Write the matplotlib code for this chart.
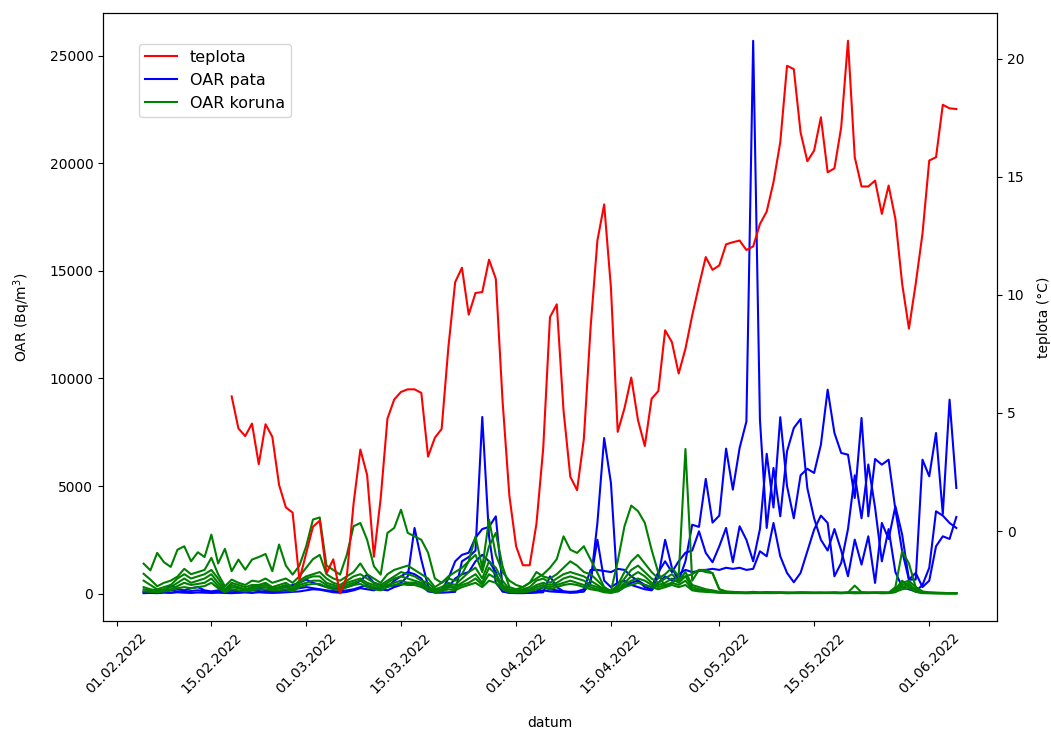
import numpy as np
import pandas as pd
import matplotlib
matplotlib.use("Agg")
import matplotlib.pyplot as plt
import matplotlib.dates as mdates
from matplotlib.lines import Line2D

dates = pd.date_range("2022-02-05", "2022-06-05", freq="D")
nan = np.nan

teplota = [nan] * 13 + [
    5.7, 4.34, 4.02, 4.55, 2.83, 4.52, 3.99, 1.95, 1.0, 0.78,
    -2.07, -0.94, 0.18, 0.44, -1.79, -1.2, -2.64, -1.93, 1.17, 3.45,
    2.37, -1.09, 1.38, 4.76, 5.57, 5.89, 6.0, 6.0, 5.85, 3.15,
    3.95, 4.32, 7.79, 10.54, 11.15, 9.16, 10.08, 10.12, 11.49, 10.68,
    5.5, 1.5, -0.65, -1.45, -1.45, 0.3, 3.5, 9.06, 9.6, 5.1,
    2.3, 1.73, 3.9, 8.64, 12.3, 13.83, 10.3, 4.2, 5.2, 6.5,
    4.69, 3.6, 5.6, 5.93, 8.5, 8.0, 6.67, 7.72, 9.13, 10.4,
    11.6, 11.06, 11.25, 12.14, 12.23, 12.3, 11.9, 12.05, 13.0, 13.53,
    14.77, 16.46, 19.7, 19.56, 16.88, 15.66, 16.11, 17.52, 15.19, 15.36,
    17.1, 20.76, 15.83, 14.59, 14.59, 14.84, 13.43, 14.63, 13.22, 10.47,
    8.57, 10.47, 12.59, 15.69, 15.83, 18.05, 17.9, 17.87]

pata_1 = [
    20, 30, 20, 40, 30, 60, 40, 30, 50, 40,
    30, 40, 30, 20, 40, 50, 30, 60, 40, 30,
    40, 60, 80, 100, 150, 200, 180, 120, 60, 40,
    80, 150, 250, 200, 150, 300, 400, 350, 500, 800,
    3050, 1580, 340, 50, 40, 60, 80, 1500, 1700, 2000,
    8210, 2660, 500, 100, 50, 30, 30, 40, 50, 60,
    800, 300, 100, 50, 60, 100, 500, 3280, 7230, 5140,
    100, 300, 500, 600, 300, 200, 800, 2500, 1200, 600,
    1500, 3200, 3100, 5330, 3300, 3624, 6738, 4832, 6769, 8000,
    25700, 8086, 3051, 5840, 3593, 6614, 7698, 8116, 4900, 3500,
    2500, 2000, 3000, 2000, 805, 2508, 1347, 2663, 495, 3283,
    2539, 4058, 2741, 650, 960, 300, 600, 2199, 2663, 2539,
    3562]
pata_2 = [
    100, 80, 150, 120, 400, 200, 150, 250, 300, 150,
    100, 150, 200, 150, 100, 150, 300, 250, 150, 200,
    250, 300, 400, 500, 650, 500, 400, 300, 250, 200,
    300, 400, 600, 880, 500, 400, 300, 600, 800, 1000,
    900, 700, 200, 100, 150, 700, 1500, 1800, 1900, 2600,
    3000, 3100, 3590, 300, 50, 40, 40, 50, 100, 300,
    200, 150, 100, 80, 100, 200, 1100, 1100, 1050, 1000,
    1150, 1100, 800, 600, 400, 300, 1000, 1500, 1000, 1500,
    1900, 2000, 2896, 1890, 1456, 2199, 3051, 1456, 3128, 2500,
    1500, 3000, 6500, 4000, 8200, 5000, 3500, 5500, 5800, 5607,
    6923, 9479, 7466, 6536, 6459, 4445, 8163, 3593, 6257, 5994,
    6226, 3903, 1967, 650, 650, 6226, 5452, 7466, 3700, 9015,
    4910]
pata_3 = [
    50, 40, 60, 80, 150, 100, 80, 120, 150, 100,
    60, 80, 100, 60, 50, 80, 150, 120, 80, 100,
    120, 150, 200, 250, 300, 250, 200, 150, 120, 100,
    150, 200, 300, 400, 250, 200, 150, 300, 400, 500,
    500, 400, 100, 50, 80, 300, 700, 900, 1000, 1500,
    1800, 1500, 1000, 100, 30, 20, 20, 30, 60, 150,
    100, 80, 60, 40, 60, 100, 600, 2500, 600, 300,
    500, 600, 400, 300, 200, 150, 500, 800, 600, 900,
    1100, 1000, 1050, 1100, 1150, 1100, 1200, 1150, 1200, 1100,
    1150, 1967, 1734, 3283, 1734, 960, 526, 960, 1967, 2974,
    3624, 3283, 805, 1425, 3000, 5500, 3500, 6000, 4000, 1500,
    3000, 1000, 300, 200, 100, 400, 1200, 3825, 3624, 3283,
    3051]

koruna_1 = [
    1390, 1080, 1890, 1460, 1240, 2040, 2200, 1500, 1920, 1700,
    2740, 1400, 2080, 1040, 1580, 1110, 1580, 1700, 1840, 1040,
    2280, 1300, 880, 1300, 2200, 3440, 3540, 1300, 1100, 880,
    1800, 3130, 3280, 2500, 1270, 880, 2820, 3050, 3900, 2820,
    2660, 2500, 1900, 700, 500, 800, 1000, 1200, 1500, 2650,
    1200, 3440, 1800, 1000, 600, 400, 300, 500, 700, 900,
    1200, 1600, 2660, 2040, 1890, 2200, 1580, 960, 300, 100,
    1500, 3130, 4090, 3830, 3290, 2040, 960, 300, 500, 700,
    800, 900, 1100, 1100, 950, 200, 80, 60, 50, 40,
    30, 40, 60, 30, 50, 40, 30, 50, 40, 30,
    40, 30, 40, 30, 50, 60, 40, 30, 40, 50,
    40, 60, 500, 600, 300, 60, 40, 30, 30, 20,
    20]
koruna_2 = [
    920, 650, 340, 500, 600, 790, 1150, 900, 1000, 1100,
    1660, 900, 340, 650, 500, 400, 600, 550, 700, 500,
    600, 700, 500, 800, 1200, 1600, 1800, 900, 700, 600,
    800, 1000, 1400, 900, 700, 500, 900, 1100, 1200, 1300,
    1100, 900, 700, 300, 500, 700, 600, 900, 1500, 1800,
    1000, 2200, 2820, 1270, 300, 200, 300, 500, 1000, 800,
    700, 900, 1200, 1500, 1300, 1000, 900, 600, 300, 100,
    400, 1000, 1500, 1800, 1400, 1000, 700, 900, 1200, 800,
    6720, 600, 1100, 1000, 950, 200, 100, 80, 60, 50,
    80, 50, 60, 40, 50, 40, 30, 50, 40, 30,
    40, 30, 40, 30, 50, 370, 60, 40, 30, 50,
    40, 300, 1970, 1400, 300, 100, 50, 40, 30, 20,
    20]
koruna_3 = [
    600, 400, 200, 300, 400, 700, 900, 700, 800, 900,
    1100, 700, 200, 500, 400, 300, 400, 400, 500, 300,
    400, 500, 300, 600, 800, 900, 1000, 700, 500, 400,
    600, 800, 900, 700, 500, 400, 600, 800, 1000, 900,
    800, 600, 500, 200, 300, 500, 400, 700, 1000, 1200,
    700, 1500, 1200, 600, 200, 150, 200, 300, 600, 700,
    500, 700, 900, 1000, 900, 800, 600, 400, 200, 80,
    300, 700, 1100, 1300, 1000, 700, 500, 700, 900, 600,
    1000, 400, 300, 200, 150, 80, 60, 50, 40, 30,
    50, 40, 30, 60, 40, 30, 50, 40, 30, 40,
    30, 50, 40, 30, 40, 50, 30, 40, 50, 40,
    30, 100, 300, 400, 200, 50, 40, 30, 20, 20,
    20]
koruna_4 = [
    300, 200, 150, 200, 300, 500, 700, 500, 600, 700,
    900, 500, 150, 400, 300, 200, 300, 350, 400, 250,
    300, 400, 200, 500, 700, 800, 800, 500, 400, 300,
    500, 600, 700, 500, 400, 300, 500, 700, 800, 700,
    600, 500, 300, 150, 200, 400, 300, 500, 700, 900,
    500, 1200, 900, 400, 150, 100, 150, 200, 400, 500,
    400, 500, 700, 800, 700, 600, 400, 300, 150, 60,
    200, 500, 800, 1000, 800, 500, 400, 500, 700, 500,
    800, 300, 200, 150, 100, 60, 50, 40, 30, 30,
    40, 30, 50, 40, 30, 40, 30, 40, 50, 30,
    40, 30, 50, 40, 30, 40, 50, 30, 40, 30,
    40, 200, 600, 300, 150, 40, 30, 20, 20, 20,
    20]
koruna_5 = [
    200, 150, 100, 150, 200, 350, 500, 400, 450, 500,
    700, 350, 100, 300, 250, 150, 250, 300, 300, 200,
    250, 300, 150, 400, 500, 600, 600, 400, 300, 250,
    400, 500, 600, 400, 300, 250, 400, 500, 600, 500,
    500, 400, 250, 100, 150, 300, 250, 400, 500, 700,
    400, 900, 700, 300, 100, 80, 100, 150, 300, 400,
    300, 400, 500, 600, 500, 400, 300, 200, 100, 50,
    150, 400, 600, 700, 600, 400, 300, 400, 500, 400,
    600, 200, 150, 100, 80, 50, 40, 30, 30, 20,
    30, 20, 30, 40, 30, 20, 30, 20, 30, 40,
    30, 20, 30, 20, 30, 20, 30, 40, 30, 20,
    30, 150, 400, 500, 100, 30, 20, 20, 10, 10,
    10]
koruna_6 = [
    100, 80, 60, 100, 150, 250, 300, 250, 300, 350,
    500, 250, 60, 200, 150, 100, 150, 200, 200, 150,
    150, 200, 100, 300, 400, 450, 450, 300, 200, 150,
    300, 400, 450, 300, 200, 150, 300, 400, 450, 400,
    400, 300, 150, 60, 100, 200, 150, 300, 400, 500,
    300, 600, 500, 200, 60, 50, 60, 100, 200, 300,
    200, 300, 400, 450, 400, 300, 200, 150, 60, 30,
    100, 300, 400, 500, 400, 300, 200, 300, 400, 300,
    400, 150, 100, 80, 60, 40, 30, 20, 20, 20,
    20, 30, 20, 20, 30, 20, 20, 30, 20, 20,
    20, 30, 20, 20, 30, 20, 20, 20, 30, 20,
    20, 80, 200, 250, 80, 20, 20, 10, 10, 10,
    10]

pata = [pata_1, pata_2, pata_3]
koruna = [koruna_1, koruna_2, koruna_3, koruna_4, koruna_5, koruna_6]

fig = plt.figure(figsize=(10.51, 7.31), dpi=100)
ax1 = fig.add_subplot(111)
fig.subplots_adjust(left=0.098, right=0.9486, bottom=0.1505, top=0.982)

for s in pata:
    ax1.plot(dates, s, color="blue")
for s in koruna:
    ax1.plot(dates, s, color="green")
ax1.set_ylabel("OAR (Bq/m$^3$)", labelpad=12)
ax1.set_xlabel("datum", labelpad=14)

ax2 = ax1.twinx()
ax2.plot(dates, teplota, color="red")
ax2.set_ylabel("teplota (°C)", labelpad=9)

ax1.xaxis.set_major_locator(mdates.DayLocator(bymonthday=[1, 15]))
ax1.xaxis.set_major_formatter(mdates.DateFormatter("%d.%m.%Y"))
for lbl in ax1.get_xticklabels():
    lbl.set_rotation(45)

handles = [Line2D([], [], color="red"), Line2D([], [], color="blue"),
           Line2D([], [], color="green")]
ax2.legend(handles, ["teplota", "OAR pata", "OAR koruna"], loc="upper left",
           bbox_to_anchor=(0.04, 0.95), borderaxespad=0, fontsize=11.5)

fig.savefig("out.png", dpi=100)
